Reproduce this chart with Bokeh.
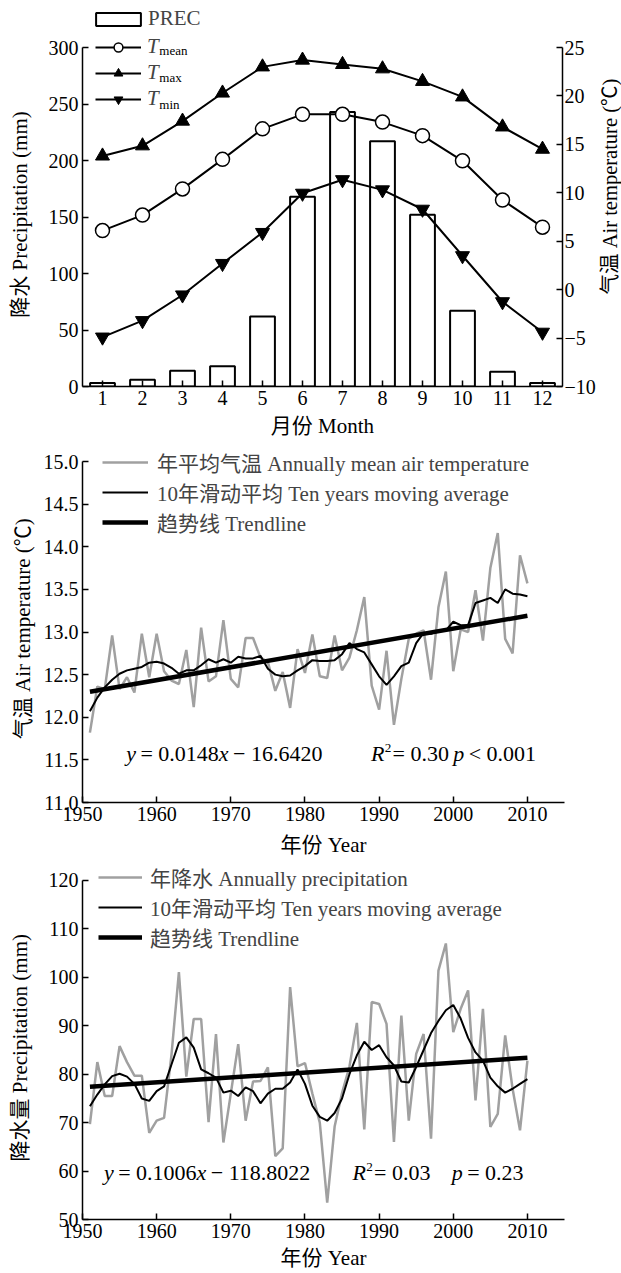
import math
from bokeh.plotting import figure
from bokeh.models import (Range1d, LinearAxis, FixedTicker, Legend, LegendItem,
                          Label, NumeralTickFormatter)
from bokeh.layouts import column, row
from bokeh.embed import file_html
from bokeh.resources import INLINE

FONT = "'Liberation Serif', 'Noto Sans CJK SC'"
EM = "\u2003"
EN = "\u2002"

# ---------------- data: panel 1 (monthly climate) ----------------
months = list(range(1, 13))
month_prec = [3, 6, 14, 18, 62, 168, 243, 217, 152, 67, 13, 3]
t_mean = [6.1, 7.7, 10.4, 13.45, 16.6, 18.1, 18.1, 17.3, 15.9, 13.3, 9.25, 6.45]
t_max = [13.8, 14.85, 17.4, 20.3, 23.0, 23.7, 23.25, 22.8, 21.5, 19.9, 16.8, 14.5]
t_min = [-4.9, -3.2, -0.55, 2.7, 5.9, 9.95, 11.35, 10.3, 8.3, 3.5, -1.25, -4.4]

# ---------------- data: panel 2 (annual temperature) ----------------
years = list(range(1951, 2011))
temp_annual = [11.82, 12.36, 12.33, 12.96, 12.33, 12.47, 12.29, 12.98, 12.47, 12.98,
               12.54, 12.43, 12.39, 12.79, 12.12, 13.05, 12.42, 12.48, 13.14, 12.45,
               12.35, 12.93, 12.93, 12.70, 12.65, 12.31, 12.53, 12.11, 12.80, 12.52,
               12.97, 12.48, 12.46, 12.96, 12.55, 12.70, 13.02, 13.41, 12.37, 12.09,
               12.78, 11.91, 12.45, 12.92, 12.98, 13.02, 12.44, 13.29, 13.71, 12.54,
               13.03, 13.00, 13.49, 12.90, 13.75, 14.16, 12.92, 12.75, 13.90, 13.57]
temp_ma = [12.07, 12.23, 12.35, 12.44, 12.51, 12.55, 12.57, 12.59, 12.64, 12.65,
           12.63, 12.58, 12.51, 12.55, 12.55, 12.61, 12.68, 12.64, 12.68, 12.64,
           12.71, 12.69, 12.69, 12.72, 12.57, 12.50, 12.48, 12.49, 12.55, 12.60,
           12.67, 12.66, 12.66, 12.67, 12.74, 12.87, 12.80, 12.76, 12.62, 12.48,
           12.38, 12.48, 12.60, 12.64, 12.87, 12.99, 12.98, 13.01, 13.02, 13.12,
           13.08, 13.08, 13.34, 13.37, 13.40, 13.34, 13.50, 13.45, 13.44, 13.42]
trend_years = [1951, 2010]
temp_trend = [12.30, 13.19]

# ---------------- data: panel 3 (annual precipitation) ----------------
prec_annual = [69.7, 82.5, 75.5, 75.5, 85.8, 82.5, 79.7, 79.7, 67.9, 70.4,
               71.0, 84.0, 101.1, 79.5, 91.4, 91.4, 70.1, 88.3, 65.9, 76.0,
               86.2, 70.4, 78.5, 78.6, 81.4, 63.1, 64.7, 98.0, 81.6, 82.3,
               76.0, 70.0, 53.5, 69.2, 76.1, 81.6, 90.6, 68.6, 94.9, 94.5,
               90.4, 66.0, 92.1, 70.4, 84.2, 88.3, 66.7, 101.4, 107.0, 88.7,
               93.5, 97.3, 74.6, 93.5, 69.1, 71.8, 88.0, 77.0, 68.4, 82.8]
prec_ma = [73.4, 75.8, 77.9, 79.6, 80.1, 79.5, 78.0, 75.0, 74.5, 76.5,
           77.5, 82.0, 86.5, 87.6, 85.5, 81.0, 80.2, 79.3, 76.2, 76.6,
           75.5, 77.3, 76.5, 74.0, 76.0, 77.0, 77.0, 78.3, 81.0, 78.0,
           73.5, 71.2, 70.4, 72.0, 75.0, 80.0, 83.9, 86.7, 85.0, 86.0,
           83.5, 81.8, 78.5, 78.3, 81.5, 85.0, 88.5, 91.0, 93.2, 94.3,
           91.5, 87.5, 84.5, 82.8, 79.3, 77.5, 76.2, 77.0, 78.0, 79.0]
prec_trend = [77.4, 83.4]

GREY = "#a0a0a0"
TICK_FS = "20px"
LAB_FS = "21px"


def style_axis(ax, standoff):
    ax.axis_line_color = "black"
    ax.axis_line_width = 1.5
    ax.major_tick_line_color = "black"
    ax.major_tick_line_width = 1.5
    ax.major_tick_in = 6
    ax.major_tick_out = 0
    ax.minor_tick_line_color = None
    ax.major_label_text_font = FONT
    ax.major_label_text_font_size = TICK_FS
    ax.major_label_text_color = "black"
    ax.major_label_standoff = 4
    ax.axis_label_text_font = FONT
    ax.axis_label_text_font_size = LAB_FS
    ax.axis_label_text_font_style = "normal"
    ax.axis_label_text_color = "black"
    ax.axis_label_standoff = standoff


def base_fig(width, height, xr, yr, right, bottom):
    p = figure(width=width, height=height, x_range=xr, y_range=yr,
               output_backend="svg", toolbar_location=None,
               min_border_left=82, min_border_right=right,
               min_border_top=0, min_border_bottom=bottom)
    p.outline_line_color = None
    p.xgrid.visible = False
    p.ygrid.visible = False
    p.background_fill_color = "white"
    p.border_fill_color = "white"
    return p


def tw(s):
    w = 0.0
    for ch in s:
        if ch.isdigit():
            w += 0.5
        elif ch in ". ":
            w += 0.25
        elif ch in "=−<":
            w += 0.564
        elif ch in "yx":
            w += 0.444
        elif ch == "R":
            w += 0.611
        else:
            w += 0.5
    return w


def rich(p, x, y, pieces, size=22):
    off = 0.0
    for txt, italic, scale, dy, gap in pieces:
        fs = size * scale
        p.add_layout(Label(x=x, y=y, x_offset=off, y_offset=dy, text=txt,
                           text_font=FONT, text_font_size=f"{fs:.1f}px",
                           text_font_style="italic" if italic else "normal",
                           text_color="black", text_baseline="middle",
                           text_align="left"))
        off += tw(txt) * fs + gap * size


def legend(items, loc, gw, gh, standoff, spacing=0, italic=False):
    return Legend(items=items, location=loc, glyph_width=gw, glyph_height=gh,
                  label_height=22, label_standoff=standoff, spacing=spacing,
                  padding=0, margin=0, label_text_font=FONT,
                  label_text_font_size=LAB_FS,
                  label_text_font_style="italic" if italic else "normal",
                  background_fill_alpha=0, border_line_color=None)


# ======================= panel 1 =======================
H1 = 444
W1 = 598
top1 = 300 * 386 / 339
p1 = base_fig(W1, H1, Range1d(0.5, 12.5), Range1d(0, top1), W1 - 564, H1 - 386)
p1.extra_y_ranges = {"t": Range1d(-10, -10 + 35 * 386 / 339)}
bars = p1.vbar(x=months, top=month_prec, bottom=0, width=0.62,
               fill_color="white", line_color="black", line_width=2)
l_max = p1.line(months, t_max, y_range_name="t", line_color="black", line_width=2)
s_max = p1.scatter(months, t_max, y_range_name="t", marker="triangle", size=14,
                   fill_color="black", line_color="black")
l_mean = p1.line(months, t_mean, y_range_name="t", line_color="black", line_width=2)
s_mean = p1.scatter(months, t_mean, y_range_name="t", marker="circle", size=14,
                    fill_color="white", line_color="black", line_width=1.5)
l_min = p1.line(months, t_min, y_range_name="t", line_color="black", line_width=2)
s_min = p1.scatter(months, t_min, y_range_name="t", marker="inverted_triangle", size=14,
                   fill_color="black", line_color="black")

p1.xaxis.ticker = FixedTicker(ticks=months)
p1.xaxis.axis_label = "月份 Month"
p1.yaxis.ticker = FixedTicker(ticks=[0, 50, 100, 150, 200, 250, 300])
p1.yaxis.bounds = (0, 300)
p1.yaxis.axis_label = "降水 Precipitation (mm)" + EM + EM
style_axis(p1.xaxis[0], 6)
style_axis(p1.yaxis[0], 14)
ax_r = LinearAxis(y_range_name="t",
                  ticker=FixedTicker(ticks=[-10, -5, 0, 5, 10, 15, 20, 25]),
                  major_label_overrides={-10: "−10", -5: "−5"}, bounds=(-10, 25))
style_axis(ax_r, 0)
ax_r.major_label_standoff = 2
p1.add_layout(ax_r, "right")

leg_a = legend([LegendItem(label="PREC", renderers=[bars])], (8, 355), 56, 16, 2)
leg_b = legend([LegendItem(label="T", renderers=[l_mean, s_mean]),
                LegendItem(label="T", renderers=[l_max, s_max]),
                LegendItem(label="T", renderers=[l_min, s_min])],
               (13, 275), 46, 22, 6, spacing=1, italic=True)
p1.add_layout(leg_a, "center")
p1.add_layout(leg_b, "center")
for txt, yv in [("mean", 297.4), ("max", 273.5), ("min", 249.6)]:
    p1.add_layout(Label(x=2.42, y=yv, text=txt, text_font=FONT, text_font_size="13px",
                        text_color="black", text_baseline="middle"))

# right-hand axis title (reads bottom-to-top) in a narrow strip
pr = figure(width=621 - W1, height=H1, x_range=Range1d(0, 1), y_range=Range1d(0, H1),
            output_backend="svg", toolbar_location=None, x_axis_type=None,
            y_axis_type=None, min_border=0)
pr.outline_line_color = None
pr.background_fill_color = "white"
pr.border_fill_color = "white"
pr.add_layout(Label(x=0.5, y=H1 - 214, text="气温 Air temperature (℃)", angle=math.pi / 2,
                    text_font=FONT, text_font_size="20.5px", text_color="black",
                    text_align="center", text_baseline="middle"))

# ======================= panel 2 =======================
H2 = 865 - H1
p2 = base_fig(621, H2, Range1d(1950, 2015), Range1d(11, 15 + (461 - H1) / 85.25), 57, 63)
l_ta = p2.line(years, temp_annual, line_color=GREY, line_width=2.5)
l_tm = p2.line(years, temp_ma, line_color="black", line_width=2)
l_tt = p2.line(trend_years, temp_trend, line_color="black", line_width=4.5)
p2.xaxis.ticker = FixedTicker(ticks=[1950, 1960, 1970, 1980, 1990, 2000, 2010])
p2.xaxis.axis_label = "年份 Year"
p2.yaxis.ticker = FixedTicker(ticks=[11, 11.5, 12, 12.5, 13, 13.5, 14, 14.5, 15])
p2.yaxis.formatter = NumeralTickFormatter(format="0.0")
p2.yaxis.bounds = (11, 15)
p2.yaxis.axis_label = "气温 Air temperature (℃)" + EN
style_axis(p2.xaxis[0], 9)
style_axis(p2.yaxis[0], 6)
leg2 = legend([LegendItem(label="年平均气温 Annually mean air temperature", renderers=[l_ta]),
               LegendItem(label="10年滑动平均 Ten years moving average", renderers=[l_tm]),
               LegendItem(label="趋势线 Trendline", renderers=[l_tt])],
              (20, 265), 46, 22, 9)
p2.add_layout(leg2, "center")
rich(p2, 1955.9, 11.57, [("y", True, 1, 0, 0.2), ("= 0.0148", False, 1, 0, 0.0),
                         ("x", True, 1, 0, 0.2), ("− 16.6420", False, 1, 0, 0)])
rich(p2, 1988.9, 11.57, [("R", True, 1, 0, 0.02), ("2", False, 0.6, 6, 0.05),
                         ("= 0.30", False, 1, 0, 0)])
rich(p2, 2000.0, 11.57, [("p", True, 1, 0, 0.2), ("< 0.001", False, 1, 0, 0)])

# ======================= panel 3 =======================
p3 = base_fig(621, 408, Range1d(1950, 2015), Range1d(50, 120 + 15 / 4.843), 57, 54)
l_pa = p3.line(years, prec_annual, line_color=GREY, line_width=2.5)
l_pm = p3.line(years, prec_ma, line_color="black", line_width=2)
l_pt = p3.line(trend_years, prec_trend, line_color="black", line_width=4.5)
p3.xaxis.ticker = FixedTicker(ticks=[1950, 1960, 1970, 1980, 1990, 2000, 2010])
p3.xaxis.axis_label = "年份 Year"
p3.yaxis.ticker = FixedTicker(ticks=[50, 60, 70, 80, 90, 100, 110, 120])
p3.yaxis.bounds = (50, 120)
p3.yaxis.axis_label = "降水量 Precipitation (mm)" + EN
style_axis(p3.xaxis[0], 5)
style_axis(p3.yaxis[0], 14)
leg3 = legend([LegendItem(label="年降水 Annually precipitation", renderers=[l_pa]),
               LegendItem(label="10年滑动平均 Ten years moving average", renderers=[l_pm]),
               LegendItem(label="趋势线 Trendline", renderers=[l_pt])],
              (16, 267), 44, 22, 8)
p3.add_layout(leg3, "center")
rich(p3, 1952.9, 59.7, [("y", True, 1, 0, 0.2), ("= 0.1006", False, 1, 0, 0.0),
                        ("x", True, 1, 0, 0.2), ("− 118.8022", False, 1, 0, 0)])
rich(p3, 1986.4, 59.7, [("R", True, 1, 0, 0.02), ("2", False, 0.6, 6, 0.05),
                        ("= 0.03", False, 1, 0, 0)])
rich(p3, 1999.8, 59.7, [("p", True, 1, 0, 0.2), ("= 0.23", False, 1, 0, 0)])

layout = column(row(p1, pr, spacing=0), p2, p3, spacing=0)
open("out.html", "w").write(file_html(layout, INLINE))
